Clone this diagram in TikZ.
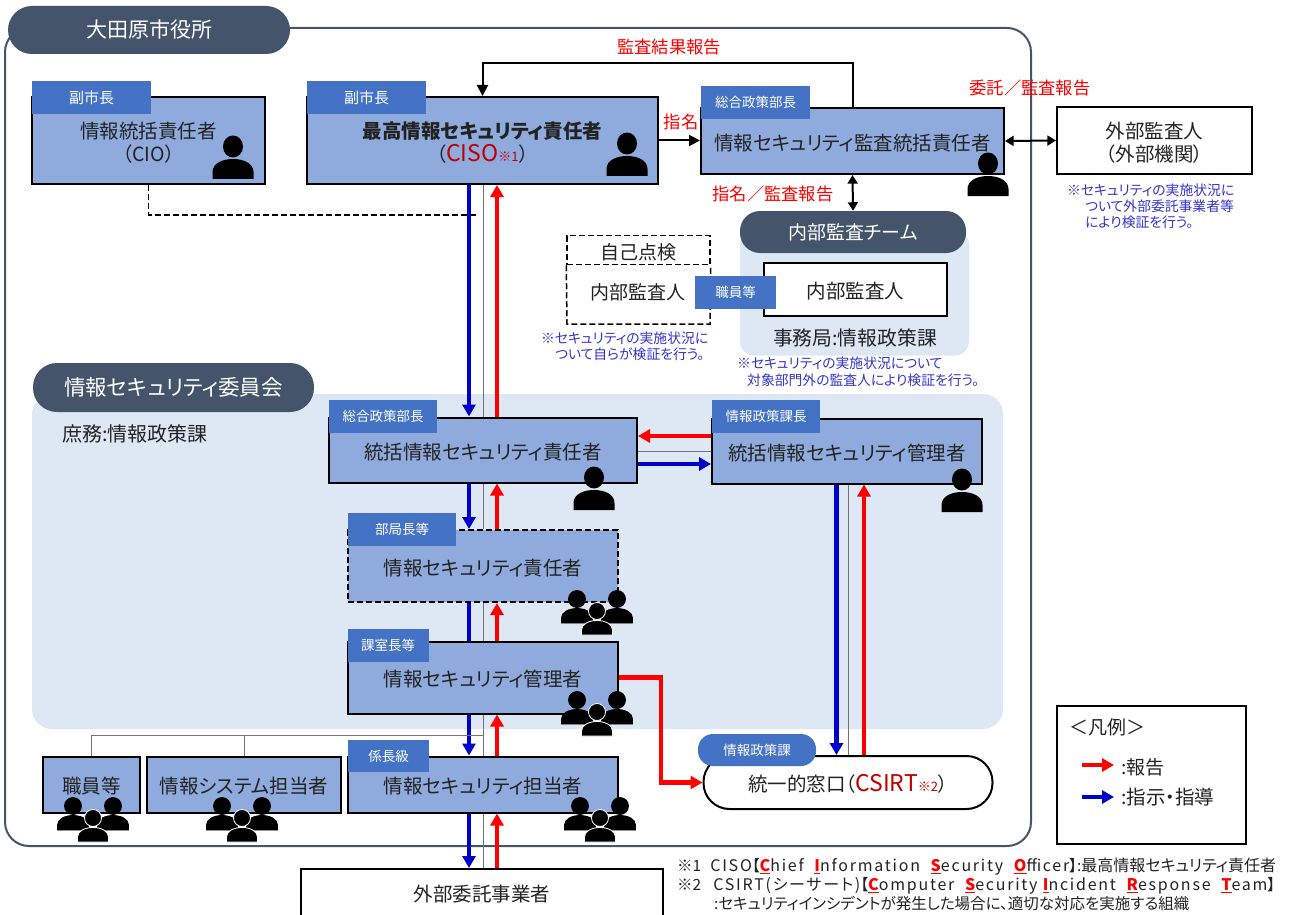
\documentclass[tikz,border=0pt]{standalone}
\usepackage{fontspec}
\setmainfont{Noto Sans CJK JP}[RawFeature=+palt]
\newfontfamily\spacedlatin{Noto Sans CJK JP}[RawFeature=+palt,LetterSpace=11]
\usetikzlibrary{arrows.meta}

\definecolor{slatedark}{HTML}{44546A}
\definecolor{boxblue}{HTML}{8FAADC}
\definecolor{tagblue}{HTML}{4472C4}
\definecolor{paleblue}{HTML}{DEE8F5}
\definecolor{flowblue}{HTML}{0000CC}
\definecolor{noteblue}{HTML}{3333CC}
\definecolor{inkgray}{HTML}{222222}
\definecolor{ciored}{HTML}{C00000}

\newcommand{\fs}[1]{\fontsize{#1}{#1}\selectfont}
\newcommand{\initial}[1]{{\color{red}\bfseries\underline{#1}}}

\tikzset{
    rolebox/.style={draw=black, line width=2, fill=boxblue, align=center, inner sep=0pt,
        text=inkgray, text height=20, text depth=2, font=\fontsize{19.5}{23}\selectfont},
    twolines/.style={text height=44, text depth=2.4},
    plainbox/.style={rolebox, fill=white},
    rolebadge/.style={fill=tagblue, text=white, inner sep=0pt, font=\fs{15}},
    smallbadge/.style={rolebadge, font=\fs{13.5}},
    titlepill/.style={fill=slatedark, text=white, inner sep=0pt},
    redlabel/.style={text=red, inner sep=0pt, font=\fs{17.3}},
    notetext/.style={text=noteblue, inner sep=0pt, anchor=west, font=\fs{13.8}},
    bodytext/.style={text=inkgray, inner sep=0pt, font=\fs{19}},
    footnote/.style={text=inkgray, inner sep=0pt, anchor=west, font=\fs{15.5}},
    longdash/.style={dash pattern=on 6pt off 3pt},
    redflow/.style={draw=red, line width=4.5, -{Triangle[length=12,width=13]}},
    blueflow/.style={draw=flowblue, line width=4.5, -{Triangle[length=12,width=13]}},
    bluebare/.style={draw=flowblue, line width=4.5},
    graylink/.style={draw=black!55, line width=1},
    blacklink/.style={draw=black, line width=2},
    blacktip/.style={Triangle-Triangle, line width=2},
    person/.pic={
        \fill[black] (0,10.5) ellipse [x radius=10, y radius=11];
        \fill[black] (-20.5,43) -- (-20.5,36) .. controls (-20.5,27) and (-10,23) .. (0,23)
            .. controls (10,23) and (20.5,27) .. (20.5,36) -- (20.5,43) -- cycle;
    },
    smallperson/.pic={
        \filldraw[black, draw=#1, line width=0.8] (0,8) ellipse [x radius=8.5, y radius=8.5];
        \filldraw[black, draw=#1, line width=0.8] (-15.5,32) -- (-15.5,27) .. controls (-15.5,21) and (-8,17.5) .. (0,17.5)
            .. controls (8,17.5) and (15.5,21) .. (15.5,27) -- (15.5,32) -- cycle;
    },
    crowd/.pic={
        \pic at (-20,0) {smallperson=black};
        \pic at (20,0) {smallperson=black};
        \pic at (0,12) {smallperson=white};
    }
}

\begin{document}
\begin{tikzpicture}[x=1pt,y=-1pt]
    \useasboundingbox (0,0) rectangle (1291,915);

    % Outer frame and shaded areas
    \node[draw=slatedark, line width=2, rounded corners=24, minimum width=1026, minimum height=818] (cityhall) at (518,437) {};
    \node[titlepill, rounded corners=24, minimum width=282, minimum height=48, font=\fs{21}] (citytitle) at (149,30) {大田原市役所};
    \node[fill=paleblue, rounded corners=20, minimum width=971, minimum height=335] (committee) at (517.5,561.5) {};
    \node[titlepill, rounded corners=24, minimum width=281, minimum height=49, font=\fs{21.5}] (committeetitle) at (173.5,387.5) {情報セキュリティ委員会};
    \node[bodytext, anchor=west, font=\fs{20}] (affairs) at (62,434) {庶務:情報政策課};

    % Top row
    \node[rolebox, twolines, minimum width=233, minimum height=87] (cio) at (148.5,140.5) {情報統括責任者\\（CIO）};
    \node[rolebadge, minimum width=119, minimum height=33] (ciotag) at (91.5,97.5) {副市長};
    \node[rolebox, twolines, minimum width=351, minimum height=87] (ciso) at (482.5,140.5) {\bfseries 最高情報セキュリティ責任者\\（{\color{ciored}\mdseries\fontsize{23}{23}\selectfont CISO{\fs{13}※1}}）};
    \node[rolebadge, minimum width=119, minimum height=33] (cisotag) at (366.5,97.5) {副市長};
    \node[rolebox, minimum width=303, minimum height=66] (audit) at (852.5,141) {情報セキュリティ監査統括責任者};
    \node[smallbadge, minimum width=109, minimum height=33] (audittag) at (755.5,102.5) {総合政策部長};
    \node[plainbox, twolines, minimum width=195, minimum height=67] (external) at (1154.5,140.5) {外部監査人\\（外部機関）};

    % Internal audit
    \node[fill=paleblue, rounded corners=14, minimum width=229, minimum height=125] (teamarea) at (854.5,293) {};
    \node[titlepill, rounded corners=20, minimum width=226, minimum height=42, font=\fs{19}] (teamtitle) at (853,232) {内部監査チーム};
    \node[plainbox, minimum width=183, minimum height=53] (internal) at (855.5,289.5) {内部監査人};
    \node[draw=black, longdash, line width=1.5, minimum width=143, minimum height=29] (selfcheck) at (638.5,250) {};
    \node[bodytext] (selflabel) at (638,252) {自己点検};
    \coordinate (selfleft) at (567,324);
    \coordinate (selfright) at (710,324);
    \draw[black, longdash, line width=1.5] (selfcheck.south west) -- (selfleft) -- (selfright) -- (selfcheck.south east);
    \node[bodytext] (selfauditor) at (638,292) {内部監査人};
    \node[smallbadge, minimum width=81, minimum height=33] (stafftag) at (735.5,292.5) {職員等};
    \node[bodytext, font=\fs{19.8}] (secretariat) at (855,338) {事務局:情報政策課};

    % Committee boxes
    \node[rolebox, minimum width=308, minimum height=65] (tsofficer) at (483,450) {統括情報セキュリティ責任者};
    \node[smallbadge, minimum width=108, minimum height=33] (tsotag) at (383,416.5) {総合政策部長};
    \node[rolebox, minimum width=270, minimum height=65] (tsmanager) at (847,451) {統括情報セキュリティ管理者};
    \node[smallbadge, minimum width=108, minimum height=33] (tsmtag) at (766,416.5) {情報政策課長};
    \node[rolebox, longdash, minimum width=270, minimum height=72] (secofficer) at (483,566) {情報セキュリティ責任者};
    \node[smallbadge, minimum width=108, minimum height=33] (secotag) at (402,529.5) {部局長等};
    \node[rolebox, minimum width=270, minimum height=72] (secmanager) at (483,677.5) {情報セキュリティ管理者};
    \node[smallbadge, minimum width=81, minimum height=33] (secmtag) at (388,645.5) {課室長等};

    % Bottom row
    \node[rolebox, minimum width=97, minimum height=56] (staff) at (91.5,784.5) {職員等};
    \node[rolebox, minimum width=194, minimum height=56] (sysstaff) at (244,784.5) {情報システム担当者};
    \node[rolebox, minimum width=270, minimum height=56] (secstaff) at (483,784.5) {情報セキュリティ担当者};
    \node[smallbadge, minimum width=81, minimum height=32] (secstag) at (388.5,756) {係長級};
    \node[plainbox, minimum width=362, minimum height=47] (vendor) at (482,892.5) {外部委託事業者};
    \node[plainbox, rounded corners=26, minimum width=289, minimum height=53] (csirt) at (848,782.5) {統一的窓口（{\color{ciored}\fontsize{23}{23}\selectfont CSIRT{\fs{13}※2}}）};
    \node[smallbadge, rounded corners=15, minimum width=118, minimum height=32] (csirttag) at (757,750) {情報政策課};

    % Vertical flows
    \coordinate (bluex) at (469,0);
    \coordinate (grayx) at (483,0);
    \coordinate (redx) at (497,0);
    \coordinate (bluey) at (836.5,0);
    \coordinate (grayy) at (848,0);
    \coordinate (redy) at (864,0);
    \foreach \upper/\lower in {ciso/tsofficer, tsofficer/secofficer, secofficer/secmanager, secmanager/secstaff, secstaff/vendor} {
        \draw[graylink] (\upper.south -| grayx) -- (\lower.north -| grayx);
        \draw[redflow] (\lower.north -| redx) -- (\upper.south -| redx);
    }
    \foreach \upper/\lower in {ciso/tsofficer, tsofficer/secofficer, secmanager/secstaff, secstaff/vendor} {
        \draw[blueflow] (\upper.south -| bluex) -- (\lower.north -| bluex);
    }
    \draw[bluebare] (secofficer.south -| bluex) -- (secmanager.north -| bluex);
    \draw[graylink] (tsmanager.south -| grayy) -- (csirt.north -| grayy);
    \draw[blueflow] (tsmanager.south -| bluey) -- (csirt.north -| bluey);
    \draw[redflow] (csirt.north -| redy) -- (tsmanager.south -| redy);

    % Horizontal flows
    \coordinate (redrow) at (0,436);
    \coordinate (grayrow) at (0,451);
    \coordinate (bluerow) at (0,464);
    \draw[redflow] (tsmanager.west |- redrow) -- (tsofficer.east |- redrow);
    \draw[graylink] (tsofficer.east |- grayrow) -- (tsmanager.west |- grayrow);
    \draw[blueflow] (tsofficer.east |- bluerow) -- (tsmanager.west |- bluerow);
    \coordinate (csirtturn) at (661,782.5);
    \draw[redflow] (secmanager.east) -| (csirtturn) -- (csirt.west);

    % Links
    \coordinate (auditturn) at (482.5,63);
    \draw[blacklink, -{Triangle[length=11,width=11]}] (audit.north) |- (auditturn) -- (ciso.north);
    \draw[blacklink, -{Triangle[length=11,width=11]}] (ciso.east) -- (ciso.east -| audit.west);
    \draw[blacklink, blacktip] (audit.east) -- (external.west);
    \draw[blacklink, blacktip] (audit.south) -- (teamtitle.north);
    \coordinate (ciodash) at (477,215);
    \draw[black, longdash, line width=1.3] (cio.south) |- (ciodash);
    \coordinate (branchtop) at (483,735);
    \draw[graylink] (branchtop) -| (staff.north);
    \draw[graylink] (branchtop -| sysstaff.north) -- (sysstaff.north);

    % People
    \foreach \x/\y in {233/136, 627/133, 988/153, 594/467, 962/469} {
        \pic at (\x,\y) {person};
    }
    \foreach \x/\y in {597/591, 597/692, 93/798, 242/798, 600/798} {
        \pic at (\x,\y) {crowd};
    }

    % Red labels
    \node[redlabel] (resultlabel) at (669,47) {監査結果報告};
    \node[redlabel] (namelabel) at (681,122) {指名};
    \node[redlabel] (consignlabel) at (1030,88) {委託／監査報告};
    \node[redlabel] (namereportlabel) at (773,194) {指名／監査報告};

    % Blue notes
    \node[notetext] (extnotea) at (1067,190) {※セキュリティの実施状況に};
    \node[notetext] (extnoteb) at (1085,206) {ついて外部委託事業者等};
    \node[notetext] (extnotec) at (1085,222) {により検証を行う。};
    \node[notetext] (selfnotea) at (541,338) {※セキュリティの実施状況に};
    \node[notetext] (selfnoteb) at (555,354) {ついて自らが検証を行う。};
    \node[notetext] (teamnotea) at (737,363) {※セキュリティの実施状況について};
    \node[notetext] (teamnoteb) at (747,380) {対象部門外の監査人により検証を行う。};

    % Legend
    \node[draw=black, line width=2, minimum width=189, minimum height=138] (legend) at (1151.5,775) {};
    \node[bodytext, anchor=west] (legendtitle) at (1069,727) {＜凡例＞};
    \coordinate (legredstart) at (1082,765);
    \coordinate (legredend) at (1114,765);
    \coordinate (legbluestart) at (1082,797);
    \coordinate (legblueend) at (1114,797);
    \draw[redflow] (legredstart) -- (legredend);
    \draw[blueflow] (legbluestart) -- (legblueend);
    \node[bodytext, anchor=west] (legendred) at (1121,767) {:報告};
    \node[bodytext, anchor=west, font=\fs{19.5}] (legendblue) at (1121,797) {:指示・指導};

    % Footnotes
    \node[footnote] (footonea) at (677,867) {※1\hspace{9pt}{\fs{16}\spacedlatin CISO}【{\fs{16}\spacedlatin\initial{C}hief\ \ \initial{I}nformation\ \ \initial{S}ecurity\ \ \initial{O}fficer}】:{\fs{16}最高情報セキュリティ責任者}};
    \node[footnote] (foottwoa) at (677,886) {※2\hspace{12pt}{\fs{16}\spacedlatin CSIRT(シーサート)}【{\fs{16}\spacedlatin\initial{C}omputer\ \ \initial{S}ecurity \initial{I}ncident\ \ \initial{R}esponse\ \ \initial{T}eam}】};
    \node[footnote] (foottwob) at (714,904) {:セキュリティインシデントが発生した場合に、適切な対応を実施する組織};
\end{tikzpicture}
\end{document}
